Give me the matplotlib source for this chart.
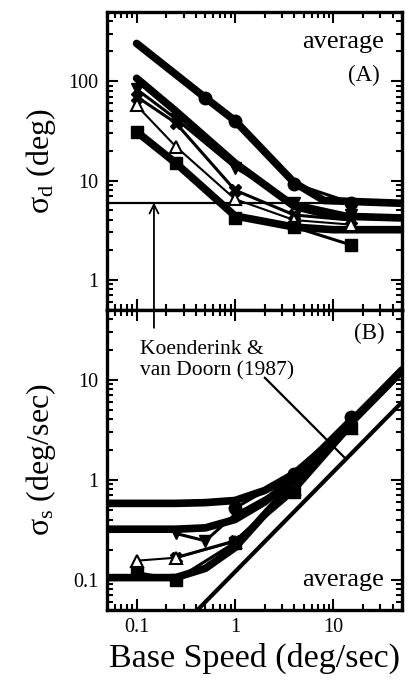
import matplotlib
matplotlib.use("Agg")
import matplotlib.pyplot as plt

plt.rcParams['font.family'] = ['Liberation Serif', 'DejaVu Serif']
plt.rcParams['mathtext.fontset'] = 'custom'
plt.rcParams['mathtext.rm'] = 'Liberation Serif'
plt.rcParams['mathtext.it'] = 'Liberation Serif:italic'

# ---- panel A: sigma_d (deg) vs base speed ----
fitA_x = [0.1, 0.5, 1, 4, 8, 50]
fitA_y = [240, 68, 40, 9.5, 6.3, 5.9]
fitB_x = [0.1, 0.25, 1, 4, 10, 50]
fitB_y = [107, 50, 15, 5.5, 4.4, 4.2]
fitC_x = [0.1, 0.25, 1, 4, 10, 50]
fitC_y = [31, 15, 4.4, 3.4, 3.2, 3.2]

speed_a = [0.1, 0.25, 1, 4, 15]
circ_a_x = [0.5, 1, 4, 15]
circ_a_y = [68, 40, 9.3, 6.0]
tri_dn_a = [83, 42, 13.5, 6.0, 4.5]
cross_a = [70, 38, 8.0, 4.5, 4.0]
tri_up_a = [57, 22, 6.5, 4.0, 3.6]
square_a = [31, 15, 4.2, 3.4, 2.25]
kvd_sigma_d = 6.0

# ---- panel B: sigma_s (deg/sec) vs base speed ----
fit_x = [0.05, 0.25, 0.5, 1, 2, 4, 8, 15, 30, 50]
fit1_y = [0.58, 0.58, 0.59, 0.62, 0.78, 1.15, 2.07, 3.8, 7.5, 12.5]
fit2_y = [0.32, 0.32, 0.33, 0.40, 0.60, 1.05, 2.02, 3.76, 7.5, 12.5]
fit3_y = [0.105, 0.105, 0.13, 0.21, 0.45, 0.95, 1.95, 3.7, 7.4, 12.4]

circ_b_x = [1, 4, 15]
circ_b_y = [0.52, 1.15, 4.2]
tri_dn_b_x = [0.25, 0.5, 1, 4, 15]
tri_dn_b_y = [0.29, 0.245, 0.45, 0.95, 3.6]
cross_b_x = [0.25, 1, 4, 15]
cross_b_y = [0.166, 0.245, 0.85, 3.4]
tri_up_b_x = [0.1, 0.25, 1, 4, 15]
tri_up_b_y = [0.155, 0.166, 0.24, 0.8, 3.3]
square_b_x = [0.1, 0.25, 1, 4, 15]
square_b_y = [0.118, 0.10, 0.235, 0.75, 3.3]

kvd_speed = [0.4, 60]
kvd_sigma_s = [0.048, 7.2]

fig = plt.figure(figsize=(4.1, 6.93), dpi=100)
ax1 = fig.add_axes([0.261, 0.553, 0.720, 0.430])
ax2 = fig.add_axes([0.261, 0.120, 0.720, 0.433])

thick = dict(color='black', lw=5.5, solid_capstyle='round', zorder=2)
thin = dict(color='black', lw=2.2, ms=9, zorder=3)

# panel A
ax1.axhline(kvd_sigma_d, color='black', lw=1.6, zorder=1)
ax1.plot(fitA_x, fitA_y, **thick)
ax1.plot(fitB_x, fitB_y, **thick)
ax1.plot(fitC_x, fitC_y, **thick)
ax1.plot(circ_a_x, circ_a_y, marker='o', **thin)
ax1.plot(speed_a, tri_dn_a, marker='v', **thin)
ax1.plot(speed_a, cross_a, marker='X', **thin)
ax1.plot(speed_a, tri_up_a, marker='^', mfc='white', mew=1.5, color='black', lw=1.5, ms=9, zorder=3)
ax1.plot(speed_a, square_a, marker='s', **thin)

# panel B
ax2.plot(kvd_speed, kvd_sigma_s, color='black', lw=3, zorder=1)
ax2.plot(fit_x, fit1_y, **thick)
ax2.plot(fit_x, fit2_y, **thick)
ax2.plot(fit_x, fit3_y, **thick)
ax2.plot(circ_b_x, circ_b_y, marker='o', **thin)
ax2.plot(tri_dn_b_x, tri_dn_b_y, marker='v', **thin)
ax2.plot(cross_b_x, cross_b_y, marker='X', **thin)
ax2.plot(tri_up_b_x, tri_up_b_y, marker='^', mfc='white', mew=1.5, color='black', lw=1.5, ms=9, zorder=3)
ax2.plot(square_b_x, square_b_y, marker='s', **thin)

for ax in (ax1, ax2):
    ax.set_xscale('log')
    ax.set_yscale('log')
    ax.set_xlim(0.05, 50)
    for s in ax.spines.values():
        s.set_linewidth(2.4)
    ax.tick_params(which='both', direction='in', top=True, right=True, width=1.5)
    ax.tick_params(which='major', length=8, labelsize=14.5, pad=6)
    ax.tick_params(which='minor', length=4)

ax1.set_ylim(0.5, 500)
ax2.set_ylim(0.05, 50)
ax1.set_yticks([1, 10, 100])
ax1.set_yticklabels(['1', '10', '100'])
ax2.set_yticks([0.1, 1, 10])
ax2.set_yticklabels(['0.1', '1', '10'])
ax2.set_xticks([0.1, 1, 10])
ax2.set_xticklabels(['0.1', '1', '10'])
ax1.tick_params(labelbottom=False)

ax1.set_ylabel(r'σ$_{\rm d}$ (deg)', fontsize=23)
ax2.set_ylabel(r'σ$_{\rm s}$ (deg/sec)', fontsize=23)
ax2.set_xlabel('Base Speed (deg/sec)', fontsize=24.5, labelpad=4)
ax1.yaxis.set_label_coords(-0.165, 0.5)
ax2.yaxis.set_label_coords(-0.165, 0.5)

ax1.text(0.80, 0.90, 'average', transform=ax1.transAxes, fontsize=19, ha='center', va='center')
ax1.text(0.87, 0.785, '(A)', transform=ax1.transAxes, fontsize=16.5, ha='center', va='center')
ax2.text(0.89, 0.92, '(B)', transform=ax2.transAxes, fontsize=16.5, ha='center', va='center')
ax2.text(0.80, 0.10, 'average', transform=ax2.transAxes, fontsize=19, ha='center', va='center')

ax2.text(0.107, 15.5, 'Koenderink &\nvan Doorn (1987)', fontsize=15.5, ha='left', va='center',
         linespacing=1.15)

# arrow from the label up to the reference level in panel A
ax2.annotate('', xy=(0.15, kvd_sigma_d), xycoords=ax1.transData,
             xytext=(0.15, 33), textcoords='data',
             arrowprops=dict(arrowstyle='->', lw=1.3, color='black', mutation_scale=16,
                             shrinkA=0, shrinkB=0),
             annotation_clip=False, zorder=5)
# pointer to the reference line in panel B
ax2.annotate('', xy=(13.5, 1.6), xytext=(2.0, 10.5),
             arrowprops=dict(arrowstyle='-', lw=1.6, color='black', shrinkA=0, shrinkB=0))

fig.savefig('out.png', dpi=100)
